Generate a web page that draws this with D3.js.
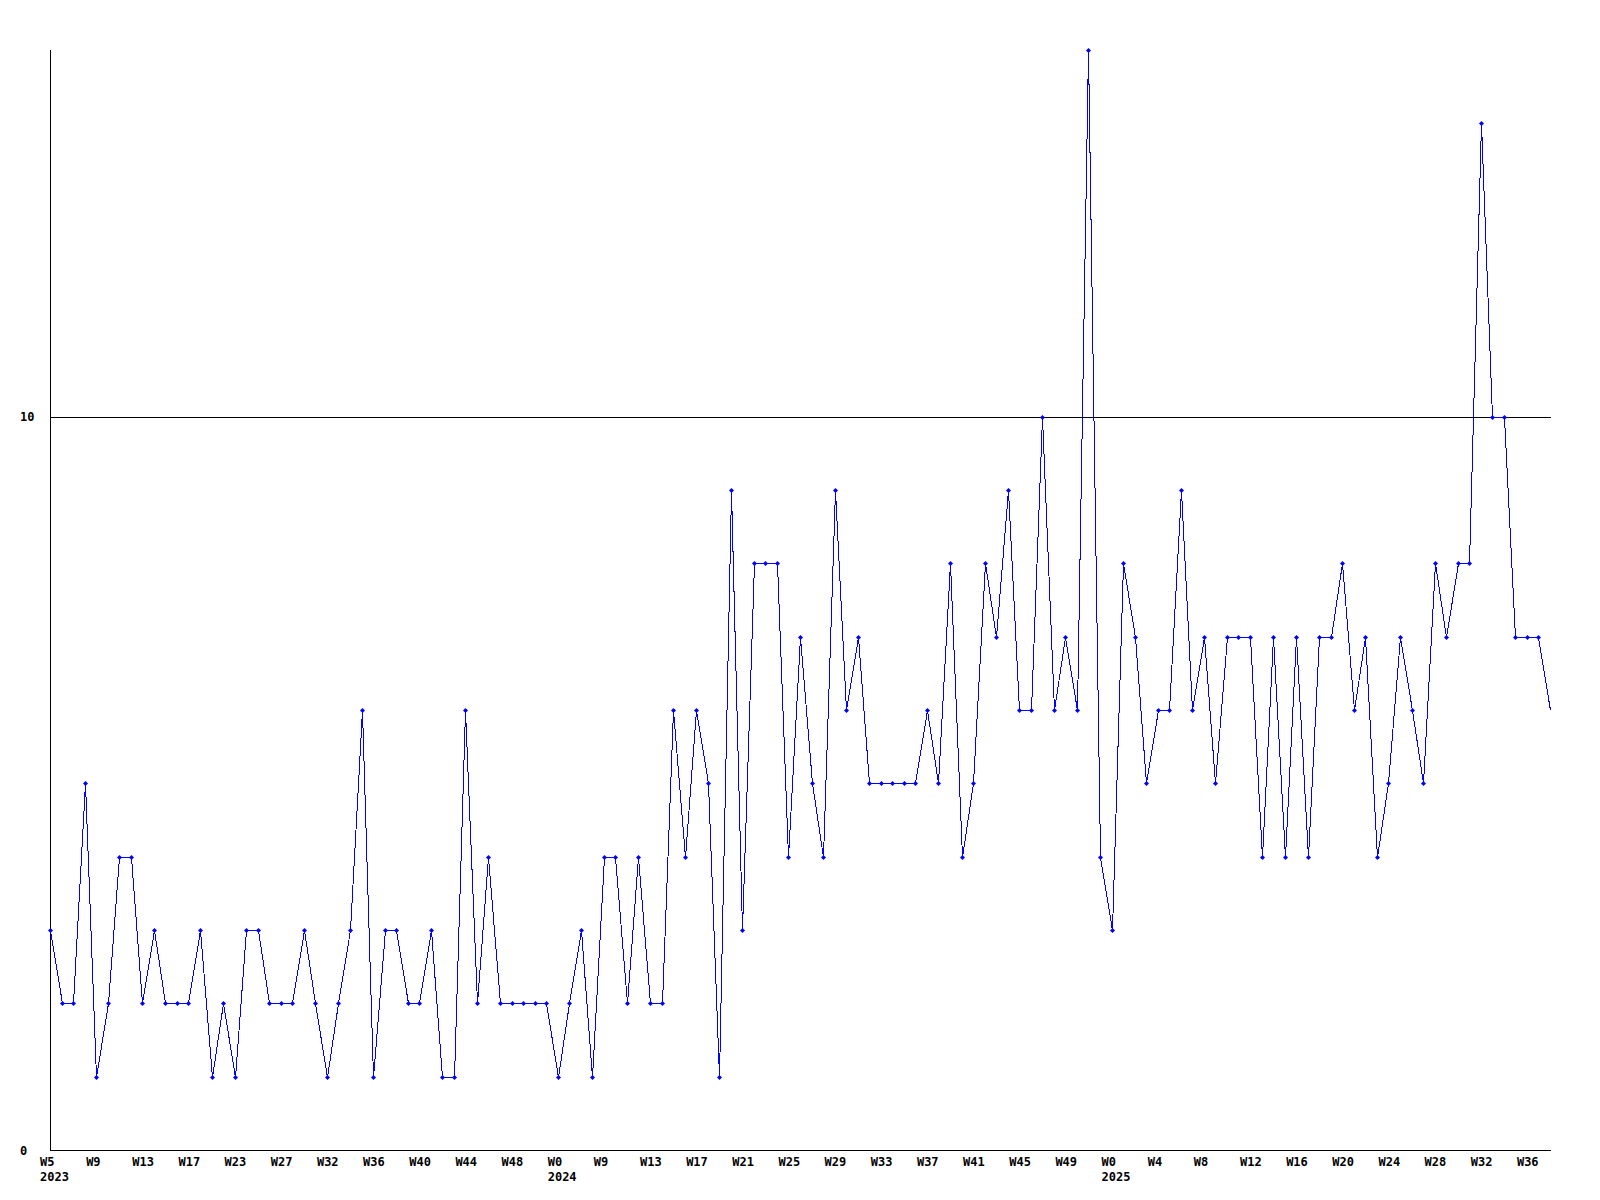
<!DOCTYPE html>
<html>
<head>
<meta charset="utf-8">
<script src="https://cdn.jsdelivr.net/npm/d3@7/dist/d3.min.js"></script>
<style>
  html, body { margin: 0; padding: 0; background: #fff; }
  svg { display: block; }
  text { font-family: "DejaVu Sans Mono", "Liberation Mono", monospace; font-weight: bold; font-size: 12px; fill: #000; }
</style>
</head>
<body>
<script>
// Weekly values, 2023 W5 .. 2025 W38 (131 points)
const values = [
  3,2,2,5,1,2,4,4,2,3,2,2,2,3,1,2,1,3,3,2,2,2,3,
  2,1,2,3,6,1,3,3,2,2,3,1,1,6,2,4,2,2,2,2,2,1,
  2,3,1,4,4,2,4,2,2,6,4,6,5,1,9,3,8,8,8,4,7,5,4,
  9,6,7,5,5,5,5,5,6,5,8,4,5,8,7,9,6,6,10,6,7,6,15,
  4,3,8,7,5,6,6,9,6,7,5,7,7,7,4,7,4,7,4,7,7,8,6,
  7,4,5,7,6,5,8,7,8,8,14,10,10,7,7,7,6
];
// Tick labels every 4th point
const tickLabels = [
  "W5","W9","W13","W17","W23","W27","W32","W36","W40","W44","W48",
  "W0","W9","W13","W17","W21","W25","W29","W33","W37","W41","W45","W49",
  "W0","W4","W8","W12","W16","W20","W24","W28","W32","W36"
];
const tickStep = 4;
const yearLabels = ["2023", "2024", "2025"];
const yearIndex = [0, 44, 92];
const yTicks = [0, 10];
const yMax = 15;

(function () {
  const W = 1600, H = 1200;
  const mLeft = 50, mRight = 1550, mTop = 50, mBottom = 1150;

  const svg = d3.select("body").append("svg").attr("width", W).attr("height", H);

  const x = d3.scaleLinear().domain([0, values.length - 1]).range([mLeft, mRight]);
  const y = d3.scaleLinear().domain([0, yMax]).range([mBottom, mTop]);

  // gridline at 10
  svg.append("g").selectAll("line").data(yTicks.filter(d => d > 0)).join("line")
    .attr("x1", mLeft).attr("x2", mRight + 1)
    .attr("y1", d => Math.round(y(d)) + 0.5).attr("y2", d => Math.round(y(d)) + 0.5)
    .attr("stroke", "#000").attr("stroke-width", 1).attr("shape-rendering", "crispEdges");

  // axes lines
  svg.append("line").attr("x1", mLeft + 0.5).attr("x2", mLeft + 0.5).attr("y1", mTop).attr("y2", mBottom + 1)
    .attr("stroke", "#000").attr("shape-rendering", "crispEdges");
  svg.append("line").attr("x1", mLeft).attr("x2", mRight + 1).attr("y1", mBottom + 0.5).attr("y2", mBottom + 0.5)
    .attr("stroke", "#000").attr("shape-rendering", "crispEdges");

  // y tick labels (left aligned)
  svg.append("g").selectAll("text").data(yTicks).join("text")
    .attr("x", 20).attr("y", d => y(d) + 4.5)
    .text(d => d);

  // x tick labels
  svg.append("g").selectAll("text").data(tickLabels).join("text")
    .attr("x", (d, i) => x(i * tickStep) - 10)
    .attr("y", 1165.5)
    .text(d => d);

  svg.append("g").selectAll("text").data(yearLabels).join("text")
    .attr("x", (d, i) => x(yearIndex[i]) - 10)
    .attr("y", 1181)
    .text(d => d);

  // data line
  const line = d3.line().x((d, i) => Math.round(x(i)) + 0.5).y(d => Math.round(y(d)) + 0.5);
  svg.append("path").datum(values)
    .attr("d", line)
    .attr("fill", "none")
    .attr("stroke", "#0000ff")
    .attr("stroke-width", 1)
    .attr("shape-rendering", "crispEdges");

  // markers (last point sits on the edge, unmarked)
  svg.append("g").selectAll("path").data(values.slice(0, values.length - 1)).join("path")
    .attr("d", (d, i) => {
      const cx = Math.round(x(i)) + 0.5, cy = Math.round(y(d)) + 0.5, r = 2.5;
      return `M${cx - r},${cy}L${cx},${cy - r}L${cx + r},${cy}L${cx},${cy + r}Z`;
    })
    .attr("fill", "#0000ff")
    .attr("stroke", "none");
})();
</script>
</body>
</html>
